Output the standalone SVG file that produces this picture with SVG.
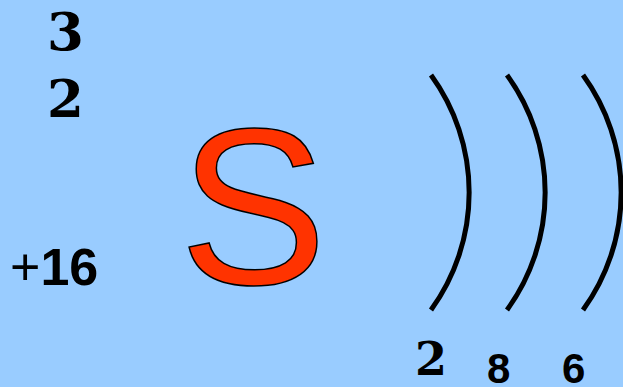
<svg xmlns="http://www.w3.org/2000/svg" width="623" height="387" viewBox="0 0 623 387">
<style>
.serif{font-family:"DejaVu Serif","Liberation Serif",serif;font-weight:bold;fill:#000}
.sans{font-family:"Liberation Sans",Arial,sans-serif;fill:#000}
.shell{fill:none;stroke:#000;stroke-width:5;stroke-linecap:butt}
</style>
<rect width="623" height="387" fill="#99CCFF"/>
<g id="mass-number"><text class="serif" x="47" y="50" font-size="53">3</text><text class="serif" x="47" y="117" font-size="53">2</text></g>
<g id="charge"><text class="sans" x="10" y="285" font-size="52">+<tspan font-weight="bold">16</tspan></text></g>
<g id="symbol"><text x="179" y="284" font-family="'Liberation Sans',Arial,sans-serif" font-size="222" fill="#FF3300" stroke="#000" stroke-width="1.5">S</text></g>
<g id="shells">
<path class="shell" d="M431,75 A200,200 0 0 1 431,310"/>
<path class="shell" d="M507,75 A200,200 0 0 1 507,310"/>
<path class="shell" d="M583,75 A200,200 0 0 1 583,310"/>
</g>
<g id="electrons">
<text class="serif" x="415" y="375" font-size="46">2</text>
<text class="sans" x="487" y="383" font-size="42" font-weight="bold">8</text>
<text class="sans" x="562" y="383" font-size="42" font-weight="bold">6</text>
</g>
</svg>
